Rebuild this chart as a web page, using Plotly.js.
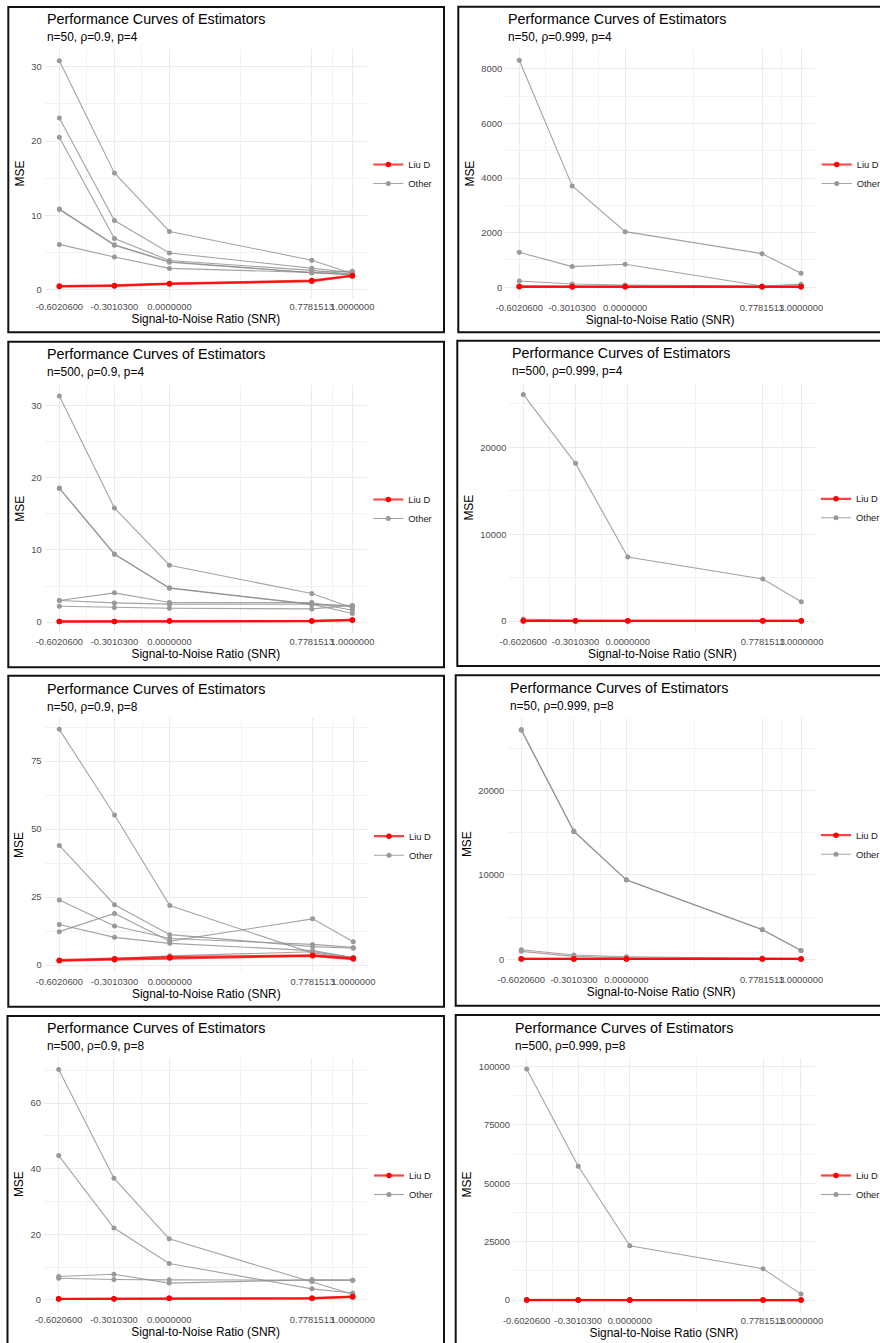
<!DOCTYPE html>
<html><head><meta charset="utf-8">
<script src="https://cdn.plot.ly/plotly-3.0.1.min.js"></script>
<style>html,body{margin:0;padding:0;background:#fff;overflow:hidden;width:880px;height:1343px;}#chart{width:910px;height:1343px;}</style>
</head><body><div id="chart"></div>
<script>
// ---------- DATA ----------
const snr = [-0.60206, -0.30103, 0, 0.7781513, 1];
const snrLabels = ["-0.6020600", "-0.3010300", "0.0000000", "0.7781513", "1.0000000"];
const legendNames = ["Liu D", "Other"];
const mainTitle = "Performance Curves of Estimators";
const xTitle = "Signal-to-Noise Ratio (SNR)";
const yTitle = "MSE";

// n=50, rho=0.9, p=4
const n50_r09_p4_liu = [[0.49, 0.58, 0.83, 1.23, 1.92], [0.45, 0.52, 0.78, 1.15, 1.85]];
const n50_r09_p4_other = [
  [30.8, 15.7, 7.84, 3.97, 2.2],
  [23.1, 9.3, 4.95, 2.9, 2.3],
  [20.5, 6.9, 3.94, 2.6, 2.1],
  [10.85, 6.05, 3.76, 2.3, 2.0],
  [10.8, 6.0, 3.7, 2.28, 2.05],
  [6.1, 4.4, 2.87, 2.33, 2.5]
];
// n=50, rho=0.999, p=4
const n50_r999_p4_liu = [[15, 15, 15, 15, 15], [25, 22, 20, 18, 18]];
const n50_r999_p4_other = [
  [8315, 3712, 2039, 1233, 513],
  [1282, 757, 842, 49, 85],
  [232, 122, 85, 49, 110],
  [45, 50, 40, 35, 45]
];
// n=500, rho=0.9, p=4
const n500_r09_p4_liu = [[0.1, 0.1, 0.18, 0.18, 0.32], [0.08, 0.09, 0.15, 0.16, 0.3]];
const n500_r09_p4_other = [
  [31.3, 15.8, 7.88, 3.96, 2.0],
  [18.57, 9.45, 4.75, 2.5, 2.3],
  [18.5, 9.4, 4.7, 2.45, 2.25],
  [3.0, 4.06, 2.72, 2.72, 1.66],
  [3.0, 2.67, 2.5, 2.5, 1.2],
  [2.2, 2.03, 1.94, 1.84, 2.3]
];
// n=500, rho=0.999, p=4
const n500_r999_p4_liu = [[20, 20, 20, 20, 20], [30, 28, 25, 25, 25]];
const n500_r999_p4_other = [
  [26100, 18160, 7370, 4837, 2227],
  [230, 60, 50, 40, 40],
  [60, 40, 40, 30, 30]
];
// n=50, rho=0.9, p=8
const n50_r09_p8_liu = [[1.6, 2.0, 2.6, 3.4, 2.2], [1.8, 2.3, 2.9, 3.6, 2.5]];
const n50_r09_p8_other = [
  [86.7, 55.2, 21.9, 4.4, 2.6],
  [44.0, 22.2, 11.2, 6.8, 6.2],
  [23.9, 14.4, 9.8, 7.6, 6.5],
  [12.3, 19.0, 8.8, 17.0, 8.6],
  [14.9, 10.2, 8.0, 5.3, 2.8],
  [1.8, 2.3, 3.4, 4.9, 2.8]
];
// n=50, rho=0.999, p=8
const n50_r999_p8_liu = [[50, 50, 50, 50, 50], [60, 55, 55, 50, 50]];
const n50_r999_p8_other = [
  [27200, 15200, 9410, 3540, 1060],
  [27100, 15100, 9380, 3500, 1040],
  [1140, 510, 315, 160, 80],
  [945, 355, 160, 80, 60]
];
// n=500, rho=0.9, p=8
const n500_r09_p8_liu = [[0.3, 0.3, 0.5, 0.5, 1.0], [0.25, 0.28, 0.45, 0.45, 0.9]];
const n500_r09_p8_other = [
  [70.3, 37.1, 18.6, 5.6, 1.7],
  [44.0, 21.9, 11.1, 3.35, 2.1],
  [7.1, 7.8, 5.1, 6.1, 6.0],
  [6.6, 6.2, 6.1, 6.1, 6.0]
];
// n=500, rho=0.999, p=8
const n500_r999_p8_liu = [[30, 30, 30, 30, 30], [50, 45, 40, 40, 40]];
const n500_r999_p8_other = [
  [98900, 57300, 23300, 13430, 2570],
  [300, 200, 150, 100, 100]
];

const subtitles = [
  "n=50, ρ=0.9, p=4", "n=50, ρ=0.999, p=4",
  "n=500, ρ=0.9, p=4", "n=500, ρ=0.999, p=4",
  "n=50, ρ=0.9, p=8", "n=50, ρ=0.999, p=8",
  "n=500, ρ=0.9, p=8", "n=500, ρ=0.999, p=8"
];
const yTickSteps = [10, 2000, 10, 10000, 25, 10000, 20, 25000];
const liuSeries = [n50_r09_p4_liu, n50_r999_p4_liu, n500_r09_p4_liu, n500_r999_p4_liu,
                   n50_r09_p8_liu, n50_r999_p8_liu, n500_r09_p8_liu, n500_r999_p8_liu];
const otherSeries = [n50_r09_p4_other, n50_r999_p4_other, n500_r09_p4_other, n500_r999_p4_other,
                     n50_r09_p8_other, n50_r999_p8_other, n500_r09_p8_other, n500_r999_p8_other];

// ---------- LAYOUT GEOMETRY (pixels; canvas is wider than the 880px window and cropped) ----------
const W = 910, H = 1343;
const geom = [
  {box:[8.3,7,444,332.3],     plot:[44.7,367,49.4,297.7],    title:[45,19.3,37.3],     leg:[393.3,174]},
  {box:[458.3,6.7,930,332.3], plot:[505.2,815.1,49,298.2],   title:[505.7,19.3,37.3],  leg:[841.7,174]},
  {box:[8.3,341.7,444,667.3], plot:[44.7,367,384.7,632.9],   title:[45,354.3,372.3],   leg:[393.3,509]},
  {box:[457.3,340.7,930,666], plot:[509.4,815.2,383.1,632.2],title:[510,353.3,371],    leg:[841,508.3]},
  {box:[8.3,675.7,444,1006.7],plot:[44.6,368,717.8,972.3],   title:[45,688.7,706.7],   leg:[394,845.7]},
  {box:[455.7,675.3,930,1005.7],plot:[507.3,815,718,970.4],  title:[508.3,688,705.7],  leg:[841,844.7]},
  {box:[7.5,1016,444,1360],   plot:[44,367.4,1057.9,1310.5], title:[44.7,1027.7,1045.7],leg:[394,1185]},
  {box:[455.7,1015,930,1360], plot:[513,814.7,1057.5,1311.6],title:[513.3,1027.7,1045.7],leg:[841,1185]}
];
const px = v => v / W;
const py = v => 1 - v / H;

const FONT = "Liberation Sans, Arial, sans-serif";
const RED_LINE = "rgba(255,0,0,0.75)", RED_PT = "#FF0000";
const GRAY_LINE = "rgba(140,140,140,0.8)", GRAY_PT = "#999999";

const traces = [];
const layout = {
  width: W, height: H, margin: {l:0, r:0, t:0, b:0, autoexpand: false},
  paper_bgcolor: "#fff", plot_bgcolor: "rgba(0,0,0,0)",
  font: {family: FONT, color: "#000"},
  showlegend: true, shapes: [], annotations: []
};

const xMin = Math.min(...snr), xMax = Math.max(...snr), xPad = 0.05 * (xMax - xMin);
const xMinor = snr.slice(1).map((v, i) => (v + snr[i]) / 2);

for (let i = 0; i < 8; i++) {
  const g = geom[i];
  const sfx = i === 0 ? "" : String(i + 1);
  const xa = "x" + sfx, ya = "y" + sfx;
  const legId = "legend" + sfx;

  const allVals = liuSeries[i].flat().concat(otherSeries[i].flat());
  const yMin = Math.min(...allVals), yMax = Math.max(...allVals), yPad = 0.05 * (yMax - yMin);

  otherSeries[i].forEach((s, k) => {
    traces.push({x: snr, y: s, xaxis: xa, yaxis: ya, type: "scatter", mode: "lines+markers",
      name: legendNames[1], legend: legId, legendrank: 2, showlegend: k === 0,
      line: {color: GRAY_LINE, width: 1.1}, marker: {color: GRAY_PT, size: 5}, hoverinfo: "x+y"});
  });
  liuSeries[i].forEach((s, k) => {
    traces.push({x: snr, y: s, xaxis: xa, yaxis: ya, type: "scatter", mode: "lines+markers",
      name: legendNames[0], legend: legId, legendrank: 1, showlegend: k === 0,
      line: {color: RED_LINE, width: 2.2}, marker: {color: RED_PT, size: 5.5}, hoverinfo: "x+y"});
  });

  const [pl, pr, pt, pb] = g.plot;
  layout["xaxis" + sfx] = {
    domain: [px(pl), px(pr)], anchor: ya, range: [xMin - xPad, xMax + xPad],
    tickmode: "array", tickvals: snr, ticktext: snrLabels, tickangle: 0,
    showgrid: true, gridcolor: "#EBEBEB", gridwidth: 1,
    minor: {tickmode: "array", tickvals: xMinor, showgrid: true, gridcolor: "#F2F2F2", gridwidth: 1},
    zeroline: false, showline: false, ticks: "", ticklabelstandoff: 2,
    tickfont: {family: FONT, size: 9.4, color: "#4D4D4D"},
    title: {text: xTitle, font: {family: FONT, size: 11.9, color: "#000"}, standoff: 3},
    fixedrange: true
  };
  layout["yaxis" + sfx] = {
    domain: [py(pb), py(pt)], anchor: xa, range: [yMin - yPad, yMax + yPad],
    tickmode: "linear", tick0: 0, dtick: yTickSteps[i], tickformat: "d",
    showgrid: true, gridcolor: "#EBEBEB", gridwidth: 1,
    minor: {tickmode: "linear", tick0: 0, dtick: yTickSteps[i] / 2, showgrid: true, gridcolor: "#F2F2F2", gridwidth: 1},
    zeroline: false, showline: false, ticks: "", ticklabelstandoff: 2,
    tickfont: {family: FONT, size: 9.4, color: "#4D4D4D"},
    title: {text: yTitle, font: {family: FONT, size: 11.9, color: "#000"}, standoff: 4},
    fixedrange: true
  };
  layout[legId] = {
    x: px(g.leg[0] - 25), y: py(g.leg[1]), xanchor: "left", yanchor: "middle",
    bgcolor: "rgba(0,0,0,0)", borderwidth: 0, font: {family: FONT, size: 9.4, color: "#1A1A1A"},
    tracegroupgap: 0, itemwidth: 30
  };
  const [bx0, by0, bx1, by1] = g.box;
  layout.shapes.push({type: "rect", xref: "paper", yref: "paper",
    x0: px(bx0), x1: px(bx1), y0: py(by1), y1: py(by0), line: {color: "#111", width: 2}, fillcolor: "rgba(0,0,0,0)"});
  layout.annotations.push({xref: "paper", yref: "paper", x: px(g.title[0]), y: py(g.title[1]),
    xanchor: "left", yanchor: "middle", showarrow: false, text: mainTitle,
    font: {family: FONT, size: 14.3, color: "#000"}});
  layout.annotations.push({xref: "paper", yref: "paper", x: px(g.title[0]), y: py(g.title[2]),
    xanchor: "left", yanchor: "middle", showarrow: false, text: subtitles[i],
    font: {family: FONT, size: 11.9, color: "#000"}});
}

Plotly.newPlot("chart", traces, layout, {displayModeBar: false, staticPlot: true});
</script>
</body></html>
